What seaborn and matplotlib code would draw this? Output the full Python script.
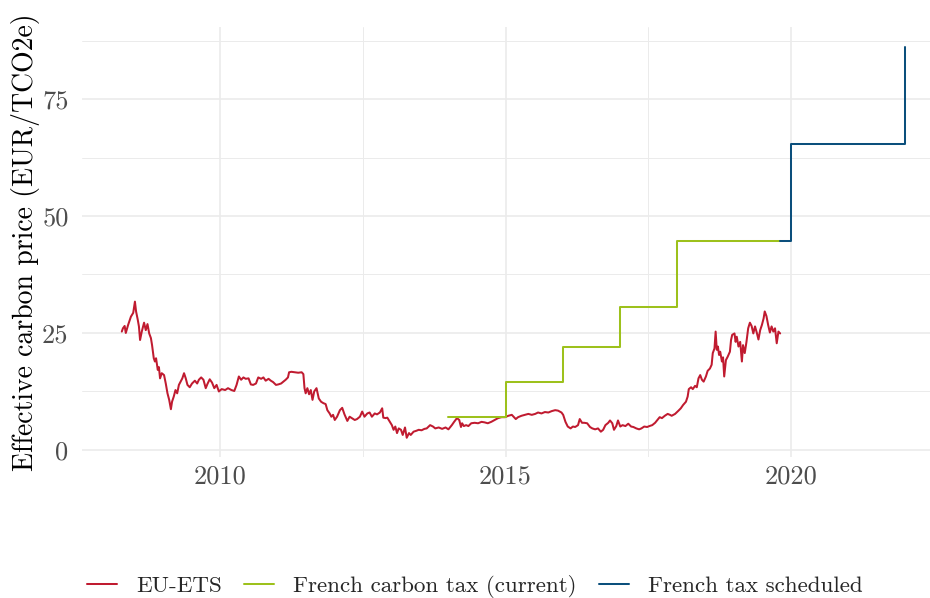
import matplotlib
matplotlib.use("Agg")
import matplotlib.pyplot as plt
import pandas as pd
import seaborn as sns

# EU-ETS allowance price (EUR per tonne CO2e), by decimal year
ets_year = [
    2008.28, 2008.30, 2008.33, 2008.35, 2008.39, 2008.44, 2008.48, 2008.51, 2008.53, 2008.56,
    2008.58, 2008.60, 2008.63, 2008.67, 2008.70, 2008.73, 2008.76, 2008.79, 2008.81, 2008.84,
    2008.86, 2008.88, 2008.91, 2008.93, 2008.95, 2008.98, 2009.02, 2009.05, 2009.08, 2009.11,
    2009.14, 2009.16, 2009.19, 2009.22, 2009.25, 2009.28, 2009.31, 2009.34, 2009.37, 2009.40,
    2009.43, 2009.47, 2009.51, 2009.56, 2009.60, 2009.63, 2009.67, 2009.71, 2009.75, 2009.78,
    2009.82, 2009.86, 2009.90, 2009.94, 2009.98, 2010.03, 2010.09, 2010.14, 2010.20, 2010.25,
    2010.29, 2010.33, 2010.37, 2010.41, 2010.45, 2010.50, 2010.54, 2010.58, 2010.63, 2010.67,
    2010.72, 2010.76, 2010.80, 2010.85, 2010.89, 2010.93, 2010.98, 2011.02, 2011.07, 2011.11,
    2011.15, 2011.19, 2011.21, 2011.25, 2011.31, 2011.37, 2011.43, 2011.46, 2011.48, 2011.50,
    2011.53, 2011.56, 2011.59, 2011.62, 2011.65, 2011.69, 2011.73, 2011.77, 2011.81, 2011.85,
    2011.88, 2011.92, 2011.95, 2011.98, 2012.01, 2012.05, 2012.10, 2012.14, 2012.18, 2012.23,
    2012.27, 2012.31, 2012.36, 2012.40, 2012.45, 2012.49, 2012.53, 2012.58, 2012.62, 2012.66,
    2012.71, 2012.75, 2012.80, 2012.84, 2012.86, 2012.90, 2012.93, 2012.97, 2013.01, 2013.04,
    2013.07, 2013.10, 2013.13, 2013.17, 2013.20, 2013.24, 2013.27, 2013.31, 2013.34, 2013.39,
    2013.44, 2013.48, 2013.53, 2013.58, 2013.62, 2013.68, 2013.73, 2013.77, 2013.83, 2013.89,
    2013.95, 2014.00, 2014.06, 2014.10, 2014.15, 2014.19, 2014.22, 2014.24, 2014.27, 2014.31,
    2014.35, 2014.40, 2014.46, 2014.52, 2014.58, 2014.63, 2014.69, 2014.75, 2014.81, 2014.87,
    2014.93, 2014.99, 2015.05, 2015.11, 2015.14, 2015.18, 2015.22, 2015.28, 2015.34, 2015.40,
    2015.46, 2015.52, 2015.57, 2015.63, 2015.69, 2015.75, 2015.81, 2015.87, 2015.92, 2015.98,
    2016.01, 2016.05, 2016.09, 2016.14, 2016.18, 2016.22, 2016.27, 2016.30, 2016.34, 2016.38,
    2016.43, 2016.48, 2016.52, 2016.57, 2016.62, 2016.67, 2016.71, 2016.75, 2016.80, 2016.83,
    2016.87, 2016.90, 2016.94, 2016.97, 2017.01, 2017.05, 2017.10, 2017.15, 2017.20, 2017.24,
    2017.29, 2017.34, 2017.38, 2017.43, 2017.48, 2017.52, 2017.57, 2017.62, 2017.66, 2017.70,
    2017.74, 2017.79, 2017.84, 2017.88, 2017.91, 2017.97, 2018.03, 2018.07, 2018.11, 2018.16,
    2018.19, 2018.21, 2018.25, 2018.28, 2018.32, 2018.35, 2018.38, 2018.41, 2018.44, 2018.47,
    2018.51, 2018.54, 2018.58, 2018.61, 2018.63, 2018.66, 2018.68, 2018.70, 2018.72, 2018.74,
    2018.76, 2018.79, 2018.81, 2018.83, 2018.86, 2018.89, 2018.93, 2018.95, 2018.97, 2019.01,
    2019.03, 2019.05, 2019.08, 2019.11, 2019.14, 2019.16, 2019.19, 2019.22, 2019.25, 2019.28,
    2019.31, 2019.34, 2019.37, 2019.40, 2019.43, 2019.46, 2019.49, 2019.52, 2019.54, 2019.57,
    2019.60, 2019.63, 2019.66, 2019.69, 2019.72, 2019.75, 2019.78, 2019.81,
]
ets_price = [
    25.3, 26.0, 26.5, 25.0, 26.7, 28.5, 29.3, 31.7, 29.6, 27.8,
    26.4, 23.5, 25.3, 27.2, 25.6, 26.9, 24.9, 23.9, 22.4, 19.6,
    18.9, 19.6, 17.1, 17.7, 15.3, 16.4, 16.0, 14.2, 12.1, 10.7,
    8.7, 10.3, 11.4, 12.8, 12.1, 13.9, 14.6, 15.3, 16.4, 15.3,
    13.9, 13.4, 14.2, 14.8, 14.2, 15.0, 15.5, 15.0, 13.2, 14.1,
    15.1, 14.4, 13.2, 13.9, 12.5, 13.0, 12.8, 13.2, 12.8, 12.6,
    13.9, 15.7, 15.0, 15.5, 15.2, 15.3, 14.0, 13.9, 14.2, 15.5,
    15.2, 15.5, 14.8, 15.2, 14.8, 14.5, 13.9, 14.0, 14.2, 14.6,
    15.0, 15.5, 16.6, 16.7, 16.6, 16.5, 16.6, 16.2, 13.2, 12.1,
    13.2, 11.9, 12.8, 10.7, 12.5, 13.2, 11.0, 10.3, 10.0, 9.8,
    8.5, 7.8, 7.1, 7.5, 6.4, 7.1, 8.5, 9.0, 7.6, 6.2,
    7.1, 6.8, 6.4, 6.6, 7.1, 8.2, 7.1, 7.8, 8.0, 7.1,
    7.8, 7.6, 8.0, 8.9, 6.9, 6.8, 6.9, 6.1, 5.3, 4.3,
    5.0, 3.6, 4.6, 4.3, 3.2, 4.8, 2.6, 3.6, 3.2, 3.9,
    4.1, 4.3, 4.2, 4.5, 4.6, 5.3, 5.0, 4.6, 4.8, 4.5,
    4.8, 4.4, 5.3, 6.0, 6.8, 6.4, 4.9, 5.7, 5.1, 5.3,
    5.1, 5.7, 5.8, 5.7, 6.0, 5.9, 5.7, 6.0, 6.4, 6.8,
    7.0, 7.0, 7.3, 7.5, 7.1, 6.6, 7.0, 7.3, 7.5, 7.7,
    7.5, 7.7, 8.0, 7.8, 8.1, 8.0, 8.3, 8.5, 8.4, 8.0,
    7.5, 6.0, 5.0, 4.6, 5.0, 4.9, 5.3, 6.6, 5.8, 5.8,
    5.7, 4.9, 4.6, 4.4, 4.6, 3.9, 4.3, 5.3, 5.8, 6.3,
    5.7, 4.3, 5.1, 6.3, 5.0, 5.3, 5.1, 5.6, 5.0, 4.9,
    4.6, 4.4, 4.6, 5.0, 4.9, 5.1, 5.3, 5.8, 6.4, 7.0,
    6.8, 7.3, 7.7, 7.5, 7.3, 7.7, 8.4, 8.9, 9.6, 10.3,
    11.4, 13.0, 13.4, 13.0, 13.7, 13.4, 15.3, 16.0, 15.0, 14.6,
    15.7, 16.9, 17.4, 18.2, 20.7, 21.7, 25.3, 21.4, 22.1, 20.3,
    21.0, 18.9, 19.8, 15.7, 19.2, 19.9, 21.0, 23.5, 24.6, 24.9,
    23.1, 24.2, 22.1, 23.1, 18.9, 22.4, 20.7, 23.1, 26.0, 27.2,
    26.5, 24.9, 26.4, 25.1, 23.6, 25.6, 26.7, 28.1, 29.6, 28.6,
    26.7, 25.1, 26.4, 25.3, 26.0, 22.8, 25.3, 24.9,
]

# French carbon tax rate in force (EUR/tCO2e), step starts
tax_year = [2014.0, 2015.0, 2016.0, 2017.0, 2018.0, 2019.81]
tax_rate = [7.0, 14.5, 22.0, 30.5, 44.6, 44.6]

# Scheduled trajectory of the French tax
sched_year = [2019.81, 2020.0, 2022.0]
sched_rate = [44.6, 65.4, 86.2]

series_labels = ["EU-ETS", "French carbon tax (current)", "French tax scheduled"]
series_colors = ["#C01B30", "#9DC11C", "#0B4F7C"]

x_ticks = [2010, 2015, 2020]
x_minor = [2012.5, 2017.5]
y_ticks = [0, 25, 50, 75]
y_minor = [12.5, 37.5, 62.5, 87.5]

sns.set_style("white")
plt.rcParams["font.family"] = ["cmr10", "DejaVu Serif"]
plt.rcParams["axes.formatter.use_mathtext"] = True

fig = plt.figure(figsize=(9.3, 5.98), dpi=100)
ax = fig.add_axes([0.0886, 0.2351, 0.9271, 0.7197])

ets = pd.DataFrame({"year": ets_year, "price": ets_price})
tax = pd.DataFrame({"year": tax_year, "price": tax_rate})
sched = pd.DataFrame({"year": sched_year, "price": sched_rate})

lw = 1.45
sns.lineplot(data=ets, x="year", y="price", ax=ax, color=series_colors[0],
             lw=lw, estimator=None, sort=False, legend=False)
sns.lineplot(data=tax, x="year", y="price", ax=ax, color=series_colors[1],
             lw=lw, estimator=None, sort=False, legend=False, drawstyle="steps-post")
sns.lineplot(data=sched, x="year", y="price", ax=ax, color=series_colors[2],
             lw=lw, estimator=None, sort=False, legend=False, drawstyle="steps-post")

ax.set_xlim(2007.59, 2022.69)
ax.set_ylim(-1.6, 90.4)

ax.set_xticks(x_ticks)
ax.set_xticklabels([str(t) for t in x_ticks])
ax.set_xticks(x_minor, minor=True)
ax.set_yticks(y_ticks)
ax.set_yticklabels([str(t) for t in y_ticks])
ax.set_yticks(y_minor, minor=True)

ax.set_axisbelow(True)
ax.grid(which="major", color="#EBEBEB", lw=1.2)
ax.grid(which="minor", color="#EBEBEB", lw=0.7)
for s in ax.spines.values():
    s.set_visible(False)

ax.tick_params(which="both", length=0)
ax.tick_params(axis="x", pad=5.5, labelsize=19, labelcolor="#4D4D4D")
ax.tick_params(axis="y", pad=10, labelsize=19, labelcolor="#4D4D4D")

ax.set_xlabel("")
ax.set_ylabel("Effective carbon price (EUR/TCO2e)", fontsize=20, color="black")
ax.yaxis.set_label_coords(-0.049, 0.5)

fig.legend(ax.lines[:3], series_labels, loc="center",
           bbox_to_anchor=(475 / 930, 11 / 598), ncol=3, frameon=False,
           fontsize=16.6, handlelength=1.3, handletextpad=0.83,
           columnspacing=0.95, borderaxespad=0, borderpad=0)

fig.savefig("out.png", dpi=100)
